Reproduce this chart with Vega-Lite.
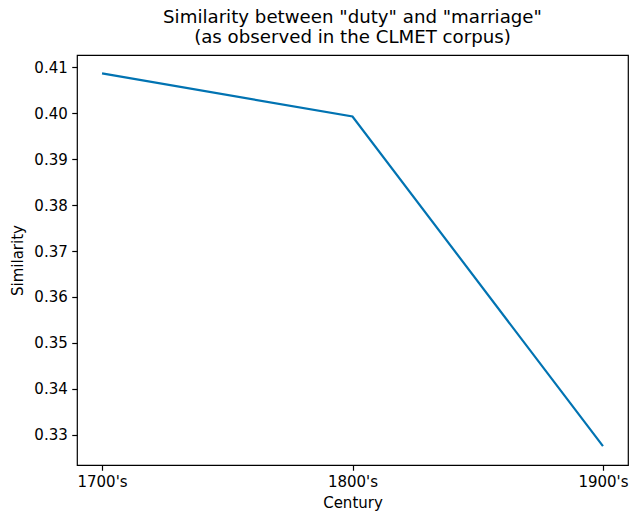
{
  "$schema": "https://vega.github.io/schema/vega-lite/v6.json",
  "width": 551,
  "height": 410,
  "autosize": {"type": "none"},
  "padding": {"left": 77, "top": 55, "right": 12, "bottom": 58},
  "background": "white",
  "config": {
    "font": "DejaVu Sans",
    "view": {"stroke": "black", "strokeWidth": 1.2},
    "axis": {
      "grid": false,
      "domain": false,
      "tickColor": "black",
      "tickSize": 5.25,
      "tickWidth": 1.2,
      "labelFont": "DejaVu Sans",
      "labelFontSize": 15,
      "labelColor": "black",
      "labelPadding": 4.5,
      "titleFont": "DejaVu Sans",
      "titleFontSize": 15,
      "titleFontWeight": "normal",
      "titleColor": "black"
    }
  },
  "title": {
    "text": ["Similarity between \"duty\" and \"marriage\"", "(as observed in the CLMET corpus)"],
    "font": "DejaVu Sans",
    "fontSize": 18.2,
    "fontWeight": "normal",
    "color": "black",
    "anchor": "middle",
    "lineHeight": 20,
    "offset": 8
  },
  "data": {
    "values": [
      {"century": "1700's", "similarity": 0.4087},
      {"century": "1800's", "similarity": 0.3993},
      {"century": "1900's", "similarity": 0.3275}
    ]
  },
  "mark": {"type": "line", "color": "#0173b2", "strokeWidth": 2.2},
  "encoding": {
    "x": {
      "field": "century",
      "type": "ordinal",
      "scale": {"type": "point", "padding": 0.1},
      "axis": {"title": "Century", "labelAngle": 0, "titlePadding": 6}
    },
    "y": {
      "field": "similarity",
      "type": "quantitative",
      "scale": {"domain": [0.3234, 0.4127], "zero": false, "nice": false},
      "axis": {
        "title": "Similarity",
        "values": [0.33, 0.34, 0.35, 0.36, 0.37, 0.38, 0.39, 0.40, 0.41],
        "format": ".2f",
        "titlePadding": 8
      }
    }
  }
}
